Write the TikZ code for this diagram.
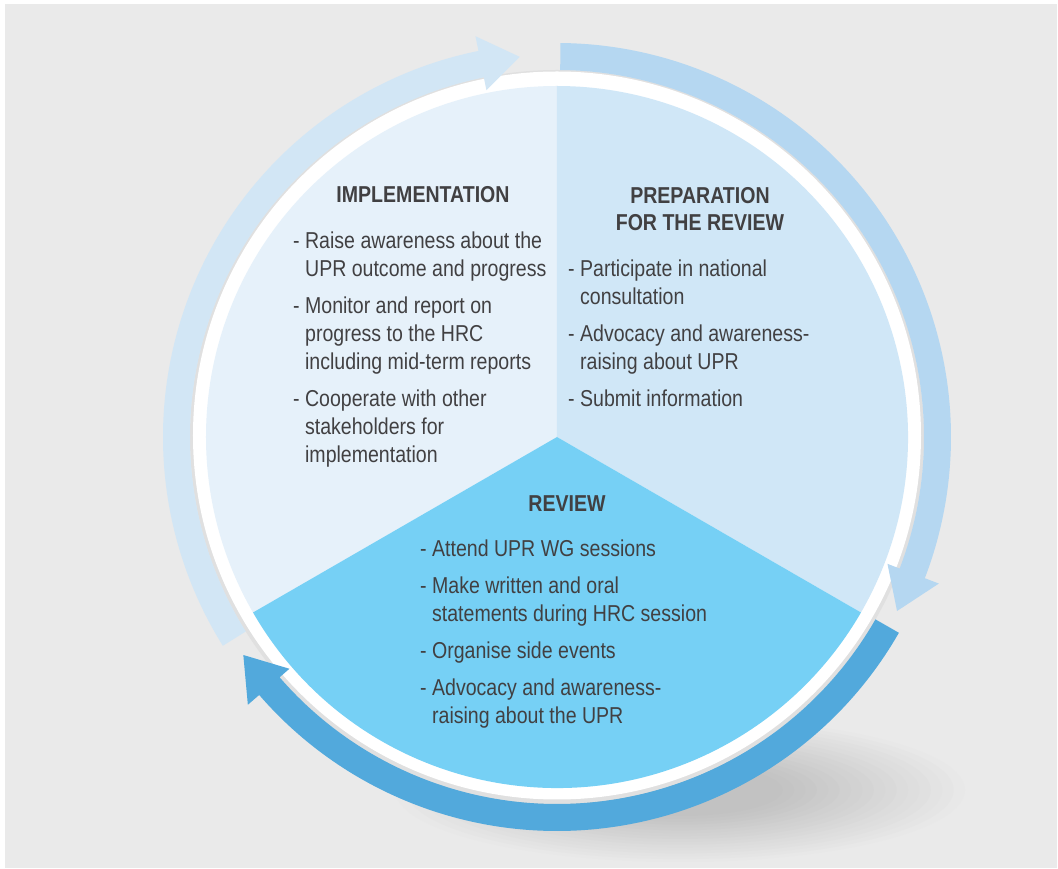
\documentclass[tikz,border=0pt]{standalone}
\usepackage{fontspec}
\setmainfont{Liberation Sans}[FakeStretch=0.85]
\usetikzlibrary{positioning}

\definecolor{bgc}{HTML}{EAEAEA}
\definecolor{implfill}{HTML}{E6F1FA}
\definecolor{prepfill}{HTML}{D0E7F7}
\definecolor{revfill}{HTML}{76D0F5}
\definecolor{implarrow}{HTML}{D2E6F5}
\definecolor{preparrow}{HTML}{B5D7F1}
\definecolor{revarrow}{HTML}{52A9DC}
\definecolor{txt}{HTML}{414042}
\definecolor{shadowc}{HTML}{C2C2C2}
\definecolor{rimshade}{HTML}{E0E0E0}

% ring arrow: colour, tail angle, head base angle, tip angle
\newcommand{\ringarrow}[4]{%
  \fill[#1] (#2:394pt) arc[start angle=#2, end angle=#3, radius=394pt]
    -- (#3:409pt) -- (#4:382pt) -- (#3:354pt) -- (#3:367pt)
    arc[start angle=#3, end angle=#2, radius=367pt] -- cycle;}
\newcommand{\ind}{\hphantom{- }}

\begin{document}
\begin{tikzpicture}[x=1pt,y=1pt,
  title/.style={font=\bfseries\fontsize{23}{27.5}\selectfont,text=txt,align=center,inner sep=0pt},
  items/.style={font=\fontsize{23}{28}\selectfont,text=txt,align=left,inner sep=0pt}
]
\useasboundingbox (-557,-432) rectangle (501,437);
\fill[white] (-557,-432) rectangle (501,437);
\fill[bgc] (-552,-431) rectangle (500,433);
\coordinate (c) at (0,0);

% soft shadow under the disc
\foreach \k in {1,...,25}{
  \pgfmathsetmacro{\sc}{1-(\k-1)/25}
  \pgfmathtruncatemacro{\mix}{min(100,6*\k)}
  \fill[shadowc!\mix!bgc] (123,-353) ellipse[x radius=\sc*285pt, y radius=\sc*72pt];
}

% white rim
\fill[rimshade] (c) circle[radius=367pt];
\fill[white] (0,1.5) circle[radius=364pt];

% the three sectors
\fill[implfill] (c) -- (90:351pt) arc[start angle=90, end angle=210, radius=351pt] -- cycle;
\fill[prepfill] (c) -- (-30:351pt) arc[start angle=-30, end angle=90, radius=351pt] -- cycle;
\fill[revfill] (c) -- (210:351pt) arc[start angle=210, end angle=330, radius=351pt] -- cycle;

% cycle arrows
\ringarrow{implarrow}{212}{101.5}{95.6}
\ringarrow{preparrow}{89.5}{-21}{-27.1}
\ringarrow{revarrow}{-29.8}{-139.1}{-145.2}

% base anchors sit on the last line
\node[title,anchor=base] (impltitle) at (-134,234) {IMPLEMENTATION};
\node[items,anchor=base west] (impltext) at (-264,-26) {- Raise awareness about the\\
\ind UPR outcome and progress\\[9pt]
- Monitor and report on\\
\ind progress to the HRC\\
\ind including mid-term reports\\[9pt]
- Cooperate with other\\
\ind stakeholders for\\
\ind implementation};

\node[title,anchor=base] (preptitle) at (143,206) {PREPARATION\\FOR THE REVIEW};
\node[items,anchor=base west] (preptext) at (11,30) {- Participate in national\\
\ind consultation\\[9pt]
- Advocacy and awareness-\\
\ind raising about UPR\\[9pt]
- Submit information};

\node[title,anchor=base] (revtitle) at (10,-75) {REVIEW};
\node[items,anchor=base west] (revtext) at (-137,-287) {- Attend UPR WG sessions\\[9pt]
- Make written and oral\\
\ind statements during HRC session\\[9pt]
- Organise side events\\[9pt]
- Advocacy and awareness-\\
\ind raising about the UPR};
\end{tikzpicture}
\end{document}
